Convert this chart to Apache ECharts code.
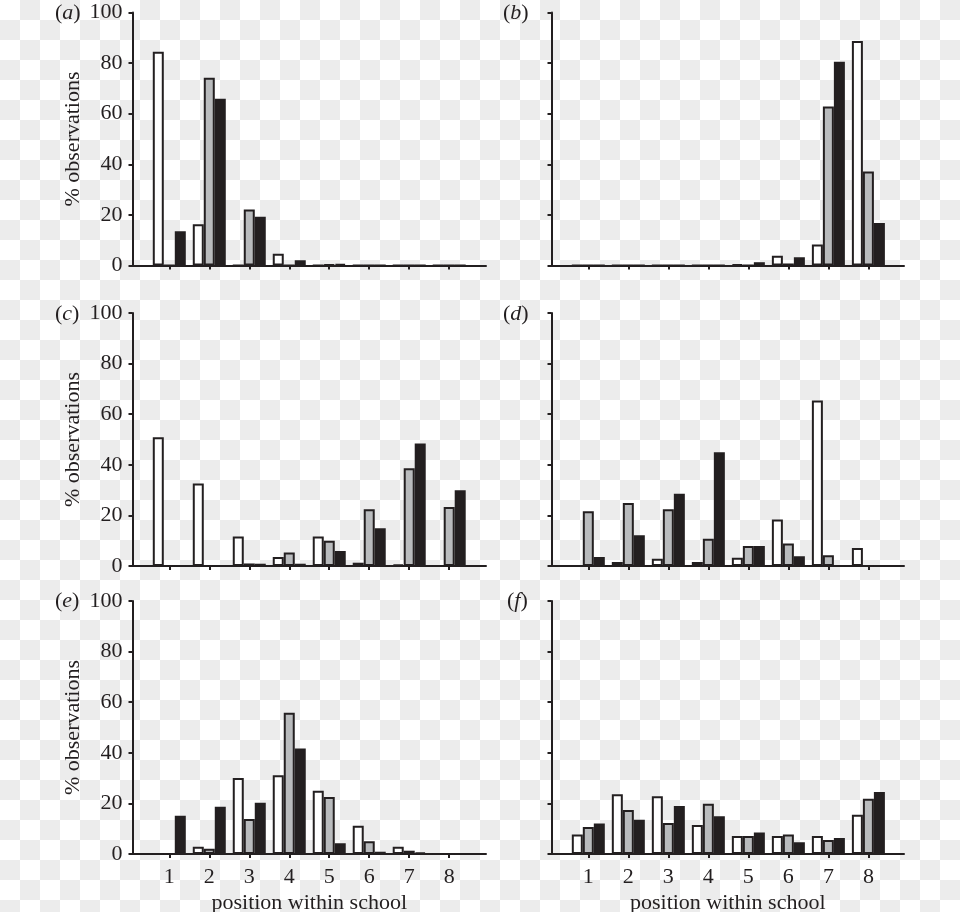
<!DOCTYPE html>
<html>
<head>
<meta charset="utf-8">
<script src="https://cdn.jsdelivr.net/npm/echarts@6/dist/echarts.min.js"></script>
<style>
html,body{margin:0;padding:0;}
body{
  width:960px;height:912px;
  background-color:#fff;
  background-image:conic-gradient(#ececec 0 25%, #fff 0 50%, #ececec 0 75%, #fff 0);
  background-size:40px 40px;
  background-position:0 0;
}
#c{width:960px;height:912px;}
</style>
</head>
<body>
<div id="c"></div>
<script>
// ---- data ----
var positions = [1, 2, 3, 4, 5, 6, 7, 8];
var yTicks = [0, 20, 40, 60, 80, 100];
var panelLabels = ['a', 'b', 'c', 'd', 'e', 'f'];
var yAxisTitle = '% observations';
var xAxisTitle = 'position within school';

// white, grey, black bars per panel
var aWhite = [84.5, 16.3, 0, 4.6, 0, 0, 0, 0];
var aGrey  = [0, 74.2, 22.1, 0, 0.3, 0, 0, 0];
var aBlack = [13.5, 65.9, 19.3, 2.1, 0.5, 0, 0, 0];

var bWhite = [0, 0, 0, 0, 0.4, 3.9, 8.3, 88.7];
var bGrey  = [0, 0, 0, 0, 0, 0.8, 62.8, 37.2];
var bBlack = [0, 0, 0, 0, 1.3, 3.3, 80.5, 16.8];

var cWhite = [50.9, 32.6, 11.7, 3.6, 11.7, 1.3, 0.5, 0];
var cGrey  = [0, 0, 1.0, 5.3, 10.0, 22.4, 38.6, 23.3];
var cBlack = [0, 0, 0.9, 0.9, 5.9, 14.9, 48.4, 29.9];

var dWhite = [0, 1.6, 2.9, 1.6, 3.3, 18.4, 65.4, 7.1];
var dGrey  = [21.6, 24.9, 22.4, 10.8, 7.9, 8.9, 4.2, 0];
var dBlack = [3.6, 12.2, 28.6, 45.0, 7.9, 3.9, 0, 0];

var eWhite = [0, 2.9, 30.0, 31.1, 25.0, 11.2, 2.9, 0];
var eGrey  = [0, 2.1, 13.8, 55.8, 22.5, 5.0, 1.3, 0];
var eBlack = [15.1, 18.7, 20.3, 41.7, 4.2, 0.9, 0.5, 0];

var fWhite = [7.7, 23.6, 22.8, 11.5, 7.1, 7.1, 7.1, 15.5];
var fGrey  = [10.7, 17.4, 12.3, 19.9, 7.1, 7.7, 5.5, 21.8];
var fBlack = [12.1, 13.5, 19.0, 14.9, 8.5, 4.6, 6.3, 24.5];

var panels = [
  [aWhite, aGrey, aBlack], [bWhite, bGrey, bBlack],
  [cWhite, cGrey, cBlack], [dWhite, dGrey, dBlack],
  [eWhite, eGrey, eBlack], [fWhite, fGrey, fBlack]
];

// ---- style ----
var INK = '#231f20';
var FILLS = ['#ffffff', '#b9bbbd', '#231f20'];
var FONT = '"Liberation Serif", "DejaVu Serif", serif';

var colLeft = [132.5, 551.5];
var colWidth = [353.5, 352.5];
var colMax = [8.92, 8.89];
var rowTop = [12.5, 313, 601];
var rowH = 253;
var labelY = [14, 315, 602];
var labelX = [55, 503];

var grids = [], xAxes = [], yAxes = [], series = [], graphics = [];

for (var p = 0; p < 6; p++) {
  var col = p % 2, row = Math.floor(p / 2);
  grids.push({left: colLeft[col], top: rowTop[row], width: colWidth[col], height: rowH,
    containLabel: false, outerBoundsMode: 'none'});
  var bottomRow = row === 2;
  xAxes.push({
    type: 'value', gridIndex: p, min: 0.08, max: colMax[col],
    splitLine: {show: false},
    axisLine: {show: true, lineStyle: {color: INK, width: 2}},
    axisTick: {show: true, customValues: positions, length: 4, lineStyle: {color: INK, width: 2}},
    axisLabel: {show: bottomRow, customValues: positions, margin: 12,
      fontFamily: FONT, fontSize: 22, color: INK},
    name: bottomRow ? xAxisTitle : '', nameLocation: 'middle', nameGap: 38,
    nameTextStyle: {fontFamily: FONT, fontSize: 22, color: INK}
  });
  yAxes.push({
    type: 'value', gridIndex: p, min: 0, max: 100, interval: 20,
    splitLine: {show: false},
    axisLine: {show: true, lineStyle: {color: INK, width: 2}},
    axisTick: {show: true, length: 4, lineStyle: {color: INK, width: 2}},
    axisLabel: {show: col === 0, margin: 10, fontFamily: FONT, fontSize: 22, color: INK},
    name: col === 0 ? yAxisTitle : '', nameLocation: 'middle', nameGap: 48,
    nameTextStyle: {fontFamily: FONT, fontSize: 22, color: INK}
  });
  for (var s = 0; s < 3; s++) {
    var vals = panels[p][s];
    series.push({
      type: 'bar', xAxisIndex: p, yAxisIndex: p,
      barWidth: 11, barGap: '0%',
      data: positions.map(function (x, i) { return [x, vals[i]]; }),
      itemStyle: {color: FILLS[s], borderColor: INK, borderWidth: 2},
      silent: true, animation: false
    });
  }
  graphics.push({
    type: 'text', left: labelX[col] + (p === 5 ? 4 : 0), top: labelY[row] - 12,
    style: {
      text: '({i|' + panelLabels[p] + '})',
      font: '22px ' + FONT, fill: INK,
      rich: {i: {fontStyle: 'italic', fontFamily: FONT, fontSize: 22, fill: INK}}
    }
  });
}

var chart = echarts.init(document.getElementById('c'), null, {renderer: 'canvas'});
chart.setOption({
  backgroundColor: 'transparent',
  animation: false,
  grid: grids, xAxis: xAxes, yAxis: yAxes, series: series,
  graphic: graphics
});
</script>
</body>
</html>
